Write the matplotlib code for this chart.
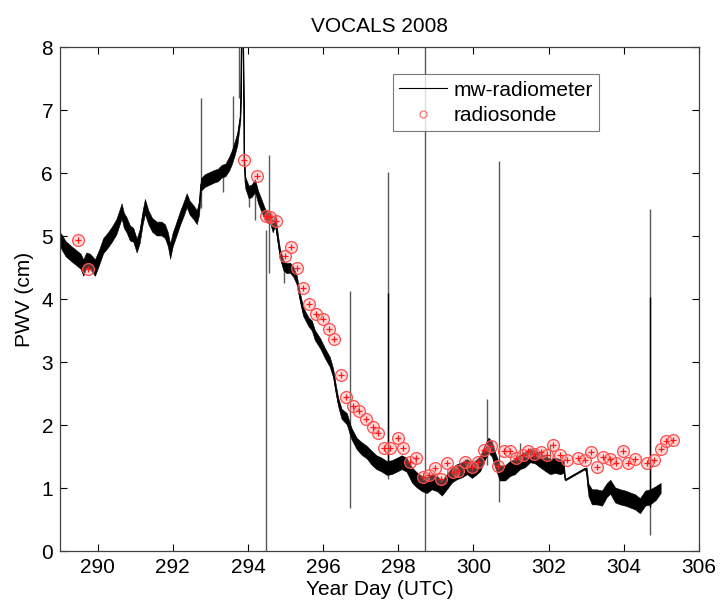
import matplotlib
matplotlib.use("Agg")
import matplotlib.pyplot as plt
from matplotlib.lines import Line2D
import numpy as np

plt.rcParams['font.family'] = ['Liberation Sans', 'DejaVu Sans']

# Microwave radiometer PWV: day, trace centre (cm), half-width of the noise band (cm)
mw_day = [289.00, 289.05, 289.15, 289.30, 289.45, 289.55, 289.62, 289.70, 289.80, 289.93,
          290.05, 290.15, 290.25, 290.37, 290.50, 290.64, 290.70, 290.77, 290.86, 290.95,
          291.04, 291.12, 291.20, 291.26, 291.35, 291.45, 291.57, 291.70, 291.79, 291.87,
          291.93, 292.00, 292.06, 292.19, 292.30, 292.37, 292.45, 292.55, 292.64, 292.70,
          292.75, 292.85, 292.99, 293.10, 293.20, 293.30, 293.40, 293.50, 293.57, 293.65,
          293.72, 293.80, 293.84, 293.87, 293.90, 293.93, 294.02, 294.10, 294.19, 294.27,
          294.35, 294.45, 294.52, 294.59, 294.66, 294.72, 294.75, 294.81, 294.85, 294.94,
          295.03, 295.12, 295.21, 295.30, 295.38, 295.47, 295.61, 295.70, 295.78, 295.92,
          296.05, 296.18, 296.27, 296.34, 296.40, 296.49, 296.63, 296.75, 296.89, 297.02,
          297.16, 297.29, 297.42, 297.56, 297.69, 297.82, 297.96, 298.09, 298.22, 298.36,
          298.49, 298.63, 298.76, 298.89, 299.03, 299.16, 299.29, 299.43, 299.56, 299.69,
          299.83, 299.96, 300.09, 300.18, 300.31, 300.40, 300.49, 300.58, 300.70, 300.84,
          300.97, 301.10, 301.24, 301.37, 301.51, 301.64, 301.77, 301.91, 302.04, 302.17,
          302.31, 302.40, 302.44, 302.97, 303.01, 303.06, 303.15, 303.28, 303.42, 303.55,
          303.64, 303.77, 303.90, 304.04, 304.17, 304.30, 304.43, 304.57, 304.70, 304.85,
          304.98]
mw_pwv = [4.95, 4.90, 4.80, 4.72, 4.65, 4.60, 4.50, 4.62, 4.60, 4.50,
          4.68, 4.85, 4.92, 5.02, 5.15, 5.40, 5.25, 5.18, 5.05, 5.02,
          4.85, 5.00, 5.30, 5.47, 5.30, 5.18, 5.12, 5.12, 5.08, 4.95,
          4.76, 4.95, 5.05, 5.28, 5.45, 5.57, 5.45, 5.38, 5.30, 5.45,
          5.82, 5.88, 5.92, 5.95, 5.97, 6.03, 6.05, 6.15, 6.25, 6.40,
          6.55, 6.90, 8.40, 8.40, 6.20, 5.85, 5.70, 5.72, 5.80, 5.62,
          5.50, 5.35, 5.30, 5.30, 5.15, 5.25, 5.15, 4.89, 4.73, 4.54,
          4.49, 4.50, 4.43, 4.30, 4.04, 3.80, 3.64, 3.58, 3.43, 3.30,
          3.14, 3.00, 2.82, 2.56, 2.37, 2.18, 2.10, 1.87, 1.71, 1.63,
          1.57, 1.48, 1.41, 1.37, 1.32, 1.33, 1.37, 1.41, 1.37, 1.21,
          1.13, 1.07, 1.05, 1.10, 1.07, 1.00, 1.10, 1.21, 1.26, 1.29,
          1.34, 1.28, 1.34, 1.39, 1.58, 1.68, 1.62, 1.44, 1.24, 1.24,
          1.31, 1.34, 1.42, 1.45, 1.52, 1.50, 1.44, 1.39, 1.34, 1.36,
          1.34, 1.34, 1.13, 1.31, 1.26, 0.97, 0.86, 0.86, 0.84, 0.97,
          1.02, 0.89, 0.86, 0.84, 0.81, 0.78, 0.72, 0.84, 0.86, 0.92,
          1.00]
mw_band = [0.11, 0.12, 0.12, 0.12, 0.12, 0.12, 0.13, 0.12, 0.12, 0.13,
           0.12, 0.12, 0.12, 0.12, 0.12, 0.12, 0.12, 0.12, 0.12, 0.11,
           0.11, 0.11, 0.11, 0.12, 0.11, 0.11, 0.11, 0.11, 0.11, 0.11,
           0.12, 0.11, 0.11, 0.11, 0.11, 0.11, 0.11, 0.11, 0.11, 0.11,
           0.10, 0.10, 0.10, 0.10, 0.10, 0.10, 0.10, 0.11, 0.11, 0.11,
           0.10, 0.05, 0.03, 0.03, 0.05, 0.09, 0.10, 0.10, 0.10, 0.10,
           0.10, 0.09, 0.09, 0.09, 0.09, 0.09, 0.09, 0.08, 0.08, 0.08,
           0.08, 0.08, 0.08, 0.07, 0.07, 0.07, 0.07, 0.08, 0.08, 0.08,
           0.08, 0.08, 0.07, 0.07, 0.07, 0.08, 0.09, 0.09, 0.09, 0.10,
           0.10, 0.11, 0.11, 0.11, 0.11, 0.11, 0.11, 0.11, 0.11, 0.12,
           0.12, 0.12, 0.13, 0.12, 0.12, 0.12, 0.12, 0.12, 0.12, 0.12,
           0.12, 0.12, 0.12, 0.12, 0.12, 0.12, 0.12, 0.12, 0.12, 0.12,
           0.12, 0.12, 0.12, 0.12, 0.11, 0.11, 0.11, 0.12, 0.12, 0.12,
           0.12, 0.10, 0.01, 0.01, 0.07, 0.10, 0.12, 0.12, 0.12, 0.11,
           0.11, 0.12, 0.12, 0.12, 0.12, 0.12, 0.12, 0.12, 0.12, 0.11,
           0.08]

# Isolated single-sample spikes in the radiometer record: day, low end, high end (cm)
spike_day = [292.75, 293.34, 293.59, 293.77, 294.02, 294.19, 294.47, 294.57, 294.95,
             296.72, 297.73, 298.72, 300.35, 300.69, 301.24, 302.04, 304.70]
spike_lo = [5.45, 5.70, 6.30, 7.20, 5.46, 5.25, 0.00, 4.42, 4.25,
            0.68, 1.15, 0.00, 1.37, 0.78, 1.40, 1.32, 0.26]
spike_hi = [7.20, 6.10, 7.22, 8.30, 5.75, 5.80, 5.10, 6.29, 4.60,
            4.13, 6.02, 8.30, 2.42, 6.20, 1.72, 1.70, 5.43]
# Darker overlapping spike segments
dark_day = [297.74, 304.71]
dark_lo = [1.20, 0.70]
dark_hi = [4.09, 4.03]

# Radiosonde PWV
sonde_day = [289.49, 289.75, 293.90, 294.24, 294.48, 294.60, 294.74, 294.98, 295.14, 295.30,
             295.47, 295.63, 295.81, 295.99, 296.15, 296.29, 296.47, 296.62, 296.80, 296.96,
             297.14, 297.32, 297.47, 297.62, 297.78, 298.00, 298.13, 298.31, 298.47, 298.65,
             298.82, 298.98, 299.14, 299.29, 299.45, 299.60, 299.77, 299.95, 300.13, 300.28,
             300.48, 300.65, 300.81, 300.97, 301.13, 301.31, 301.46, 301.61, 301.79, 301.95,
             302.11, 302.30, 302.48, 302.79, 302.97, 303.12, 303.28, 303.45, 303.63, 303.79,
             303.97, 304.12, 304.30, 304.61, 304.80, 304.98, 305.12, 305.30]
sonde_pwv = [4.94, 4.47, 6.21, 5.96, 5.32, 5.30, 5.24, 4.69, 4.82, 4.50,
             4.17, 3.92, 3.77, 3.69, 3.52, 3.37, 2.79, 2.44, 2.31, 2.22,
             2.09, 1.97, 1.87, 1.63, 1.63, 1.80, 1.63, 1.42, 1.47, 1.17,
             1.21, 1.32, 1.14, 1.40, 1.26, 1.27, 1.41, 1.33, 1.42, 1.60,
             1.67, 1.35, 1.59, 1.59, 1.47, 1.52, 1.59, 1.54, 1.58, 1.52,
             1.68, 1.52, 1.45, 1.47, 1.44, 1.57, 1.34, 1.49, 1.46, 1.39,
             1.59, 1.39, 1.46, 1.39, 1.44, 1.62, 1.75, 1.77]

x_ticks = list(range(290, 307, 2))
y_ticks = list(range(0, 9))

fig = plt.figure(figsize=(7.2, 6.1), dpi=100)
ax = fig.add_axes([0.0833, 0.0967, 0.8875, 0.826])

d = np.array(mw_day)
c = np.array(mw_pwv)
b = np.array(mw_band)
ax.fill_between(d, c - b, c + b, color='black', lw=0.4, zorder=2)
ax.plot(d, c, color='black', lw=0.8, zorder=2)
ax.vlines(spike_day, spike_lo, spike_hi, color='0.35', lw=1.0, zorder=1.5)
ax.vlines(dark_day, dark_lo, dark_hi, color='black', lw=1.0, zorder=1.6)

ax.plot(sonde_day, sonde_pwv, 'o', ms=8.5, mfc=(1, 0.6, 0.6, 0.35),
        mec=(1, 0.3, 0.3), mew=0.9, zorder=3)
ax.plot(sonde_day, sonde_pwv, '+', ms=4, color=(1, 0.1, 0.1), mew=0.9, zorder=3.1)

ax.set_xlim(289, 306)
ax.set_ylim(0, 8)
ax.set_xticks(x_ticks)
ax.set_yticks(y_ticks)
ax.tick_params(direction='in', length=5, width=0.8, top=True, right=True,
               labelsize=15, pad=5)
for s in ax.spines.values():
    s.set_linewidth(0.9)
    s.set_color('0.25')

ax.set_xlabel('Year Day (UTC)', fontsize=15, labelpad=2)
ax.set_ylabel('PWV (cm)', fontsize=15, labelpad=5)
ax.set_title('VOCALS 2008', fontsize=15, pad=11)

handles = [Line2D([], [], color='black', lw=0.8),
           Line2D([], [], ls='none', marker='o', ms=5, mfc='none',
                  mec=(1, 0.45, 0.45), mew=0.9)]
leg = ax.legend(handles, ['mw-radiometer', 'radiosonde'], loc='upper left',
                bbox_to_anchor=(0.521, 0.946), borderaxespad=0, fontsize=15,
                frameon=True, fancybox=False, handlelength=2.3, handletextpad=0.3,
                labelspacing=0.3, borderpad=0.3)
leg.get_frame().set_edgecolor('0.35')
leg.get_frame().set_linewidth(0.8)

fig.savefig('out.png', dpi=100)
